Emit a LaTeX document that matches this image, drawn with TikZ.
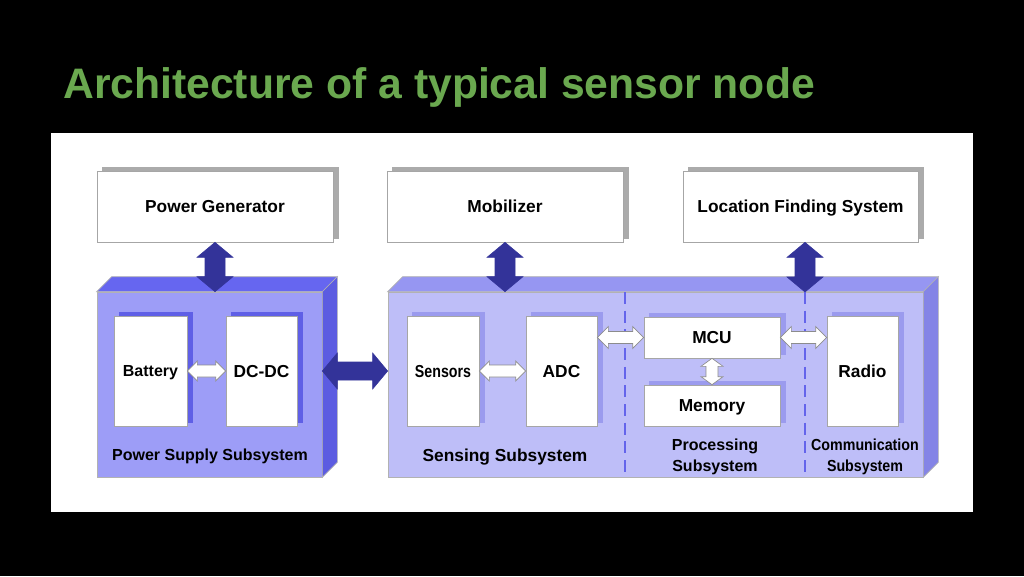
\documentclass[tikz,border=0pt]{standalone}
\usepackage{fontspec}
\setmainfont{Liberation Sans}
\usetikzlibrary{calc,fit,shadows}
\definecolor{titlegreen}{RGB}{106,168,79}
\definecolor{darrow}{RGB}{51,51,153}
\definecolor{psFront}{RGB}{157,157,247}
\definecolor{psTop}{RGB}{102,102,240}
\definecolor{psSide}{RGB}{92,92,225}
\definecolor{sFront}{RGB}{190,190,248}
\definecolor{sTop}{RGB}{150,150,242}
\definecolor{sSide}{RGB}{132,132,230}
\definecolor{psShadow}{RGB}{95,95,230}
\definecolor{sShadow}{RGB}{155,155,238}
\definecolor{dashcol}{RGB}{100,100,235}
\newcommand\HArrow[6]{\path[#1] (#2) -- ($(#2)+(#6,#5)$) -- ($(#2)+(#6,#4)$) -- ($(#3)+(-#6,#4)$) -- ($(#3)+(-#6,#5)$) -- (#3) -- ($(#3)+(-#6,-#5)$) -- ($(#3)+(-#6,-#4)$) -- ($(#2)+(#6,-#4)$) -- ($(#2)+(#6,-#5)$) -- cycle;}
\newcommand\VArrow[6]{\path[#1] (#2) -- ($(#2)+(#5,#6)$) -- ($(#2)+(#4,#6)$) -- ($(#3)+(#4,-#6)$) -- ($(#3)+(#5,-#6)$) -- (#3) -- ($(#3)+(-#5,-#6)$) -- ($(#3)+(-#4,-#6)$) -- ($(#2)+(-#4,#6)$) -- ($(#2)+(-#5,#6)$) -- cycle;}
\begin{document}
\begin{tikzpicture}[x=0.75pt,y=-0.75pt,
  lbl/.style={font=\fontsize{13}{15.5}\selectfont\bfseries, text=black, text height=9.3pt, text depth=0pt, inner sep=0pt},
  lbls/.style={font=\fontsize{12}{15.5}\selectfont\bfseries, text=black, align=center},
  topbox/.style={draw=black!35, line width=0.5pt, fill=white, inner sep=0pt,
     general shadow={fill=black!33, draw=black!33, shadow xshift=3.75pt, shadow yshift=3pt}},
  psbox/.style={draw=black!35, line width=0.5pt, fill=white, inner sep=0pt,
     general shadow={fill=psShadow, draw=psShadow, shadow xshift=3.75pt, shadow yshift=3pt}},
  sbox/.style={draw=black!35, line width=0.5pt, fill=white, inner sep=0pt,
     general shadow={fill=sShadow, draw=sShadow, shadow xshift=3.75pt, shadow yshift=3pt}},
  face/.style={draw=black!30, line width=0.5pt},
  darr/.style={fill=darrow, draw=darrow, line width=0.4pt},
  warr/.style={fill=white, draw=black!45, line width=0.5pt},
  divider/.style={draw=dashcol, line width=1.5pt, dash pattern=on 9pt off 5pt}
]
\fill[black] (0,0) rectangle (1024,576);
\useasboundingbox (0,0) rectangle (1024,576);
\node[anchor=base west, text=titlegreen, font=\fontsize{32}{38}\selectfont\bfseries, inner sep=0pt] (title) at (63,98) {Architecture of a typical sensor node};
\fill[white] (51,133) rectangle (973,512);
% top boxes
\node[topbox, fit={(97,171)(333,242)}] (pg) {};
\node[lbl] at (pg.center) {Power Generator};
\node[topbox, fit={(387,171)(623,242)}] (mob) {};
\node[lbl] at (mob.center) {Mobilizer};
\node[topbox, fit={(683,171)(918,242)}] (loc) {};
\node[lbl] at (loc.center) {Location Finding System};
% power supply 3D box
\node[face, fill=psFront, inner sep=0pt, fit={(97,292)(322,477)}] (psf) {};
\path[face, fill=psTop] (psf.north west) -- ++(15,-15) -- ($(psf.north east)+(15,-15)$) -- (psf.north east) -- cycle;
\path[face, fill=psSide] (psf.north east) -- ++(15,-15) -- ($(psf.south east)+(15,-15)$) -- (psf.south east) -- cycle;
% sensing 3D box
\node[face, fill=sFront, inner sep=0pt, fit={(388,292)(923,477)}] (sensf) {};
\path[face, fill=sTop] (sensf.north west) -- ++(15,-15) -- ($(sensf.north east)+(15,-15)$) -- (sensf.north east) -- cycle;
\path[face, fill=sSide] (sensf.north east) -- ++(15,-15) -- ($(sensf.south east)+(15,-15)$) -- (sensf.south east) -- cycle;
% dividers
\coordinate (d1t) at (625,292); \coordinate (d1b) at (625,477);
\coordinate (d2t) at (805,292); \coordinate (d2b) at (805,477);
\draw[divider] (d1t) -- (d1b);
\draw[divider] (d2t) -- (d2b);
% inner boxes
\node[psbox, fit={(114,316)(187,426)}] (bat) {};
\node[lbl, font=\fontsize{12}{14}\selectfont\bfseries, text height=8.6pt] at (bat.center) {Battery};
\node[psbox, fit={(226,316)(297,426)}] (dc) {};
\node[lbl] at (dc.center) {DC-DC};
\node[sbox, fit={(407,316)(479,426)}] (sen) {};
\node[lbl] at (sen.center) {\scalebox{0.82}[1]{Sensors}};
\node[sbox, fit={(526,316)(597,426)}] (adc) {};
\node[lbl] at (adc.center) {ADC};
\node[sbox, fit={(644,317)(780,358)}] (mcu) {};
\node[lbl] at (mcu.center) {MCU};
\node[sbox, fit={(644,385)(780,426)}] (mem) {};
\node[lbl] at (mem.center) {Memory};
\node[sbox, fit={(827,316)(898,426)}] (radio) {};
\node[lbl] at (radio.center) {Radio};
% subsystem labels
\node[lbl, font=\fontsize{12}{14}\selectfont\bfseries, text height=8.6pt] (pslbl) at (210,455) {Power Supply Subsystem};
\node[lbl] (slbl) at (505,455) {Sensing Subsystem};
\node[lbls] (plbl) at (715,457) {Processing\\Subsystem};
\node[lbls] (clbl) at (865,457) {\scalebox{0.89}[1]{Communication}\\\scalebox{0.89}[1]{Subsystem}};
% arrows
\coordinate (a1) at (pg.south |- psf.north);
\VArrow{darr}{pg.south}{a1}{10}{18}{15}
\coordinate (a2) at (mob.south |- sensf.north);
\VArrow{darr}{mob.south}{a2}{10}{18}{15}
\coordinate (a3) at (d2t |- loc.south);
\VArrow{darr}{a3}{d2t}{10}{18}{15}
\coordinate (b1) at (psf.east |- bat.east);
\coordinate (b2) at (sensf.west |- bat.east);
\HArrow{darr}{b1}{b2}{9}{18}{15}
\HArrow{warr}{bat.east}{dc.west}{6}{10}{10}
\HArrow{warr}{sen.east}{adc.west}{6}{10}{10}
\coordinate (c1) at (adc.east |- mcu.west);
\HArrow{warr}{c1}{mcu.west}{6}{11}{11}
\coordinate (c2) at (radio.west |- mcu.east);
\HArrow{warr}{mcu.east}{c2}{6}{11}{11}
\VArrow{warr}{mcu.south}{mem.north}{6}{11}{8}
\end{tikzpicture}
\end{document}
